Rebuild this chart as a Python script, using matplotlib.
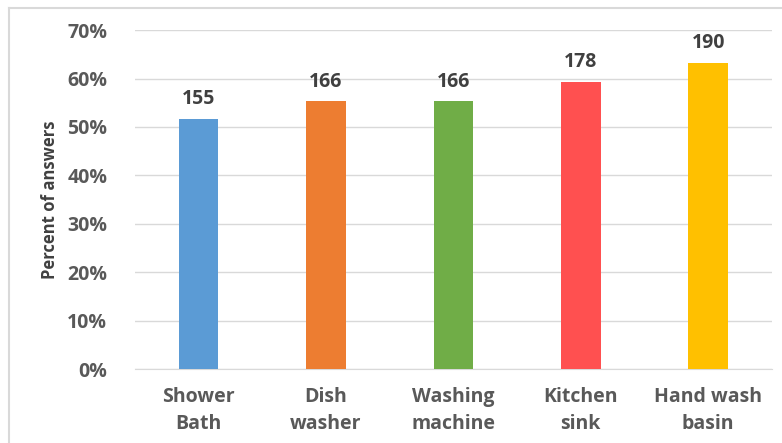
import matplotlib.pyplot as plt
from matplotlib.lines import Line2D
import numpy as np

# Categories, answer counts and share of answers (%)
categories = ['Shower\nBath', 'Dish\nwasher', 'Washing\nmachine', 'Kitchen\nsink', 'Hand wash\nbasin']
counts = [155, 166, 166, 178, 190]
percents = [51.7, 55.3, 55.3, 59.3, 63.3]
colors = ['#5B9BD5', '#ED7D31', '#70AD47', '#FF5050', '#FFC000']

plt.rcParams['font.family'] = ['Open Sans', 'DejaVu Sans']
plt.rcParams['font.weight'] = 'bold'

fig = plt.figure(figsize=(7.82, 4.43), dpi=100)
ax = fig.add_axes([0.1726, 0.167, 0.8144, 0.765])

ind = np.arange(len(categories))
bars = ax.bar(ind, percents, 0.31, color=colors, zorder=3)

# Count labels above bars
for rect, c in zip(bars, counts):
    ax.text(rect.get_x() + rect.get_width() / 2, rect.get_height() + 2.0, str(c),
            ha='center', va='bottom', fontsize=14, fontweight='bold', color='#404040')

ax.set_xlim(-0.5, len(categories) - 0.5)
ax.set_ylim(0, 70)
ax.set_yticks(np.arange(0, 71, 10))
ax.set_yticklabels([f'{v}%' for v in range(0, 71, 10)])
ax.set_xticks(ind)
ax.set_xticklabels(categories, linespacing=1.45)

ax.tick_params(axis='both', length=0, labelsize=14, labelcolor='#595959')
ax.tick_params(axis='y', pad=20)
ax.tick_params(axis='x', pad=13)
ax.grid(axis='y', color='#d9d9d9', linewidth=1, zorder=0)
for side in ['top', 'right', 'left']:
    ax.spines[side].set_visible(False)
ax.spines['bottom'].set_color('#d9d9d9')

ax.set_ylabel('Percent of answers', fontsize=12, fontweight='bold', color='#404040', labelpad=6)

# Chart frame (top and left edges visible in the crop)
fig.add_artist(Line2D([9 / 782, 9 / 782], [0, 1 - 8 / 443], transform=fig.transFigure, color='#d9d9d9', lw=1.5))
fig.add_artist(Line2D([9 / 782, 1], [1 - 8 / 443, 1 - 8 / 443], transform=fig.transFigure, color='#d9d9d9', lw=1.5))

fig.savefig('out.png', dpi=100)
